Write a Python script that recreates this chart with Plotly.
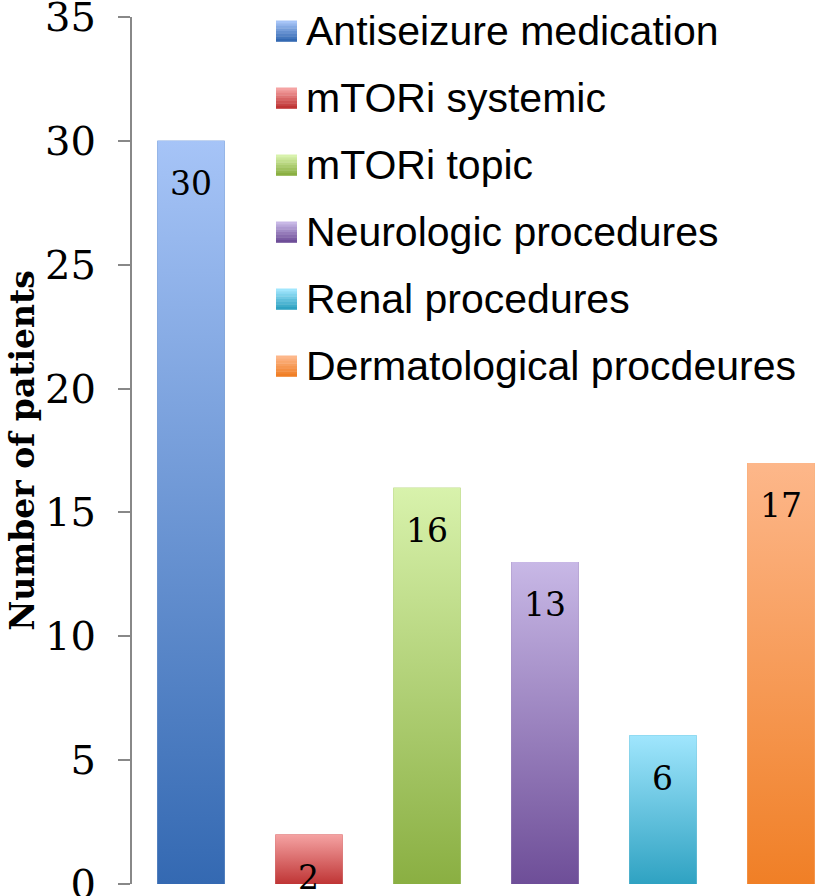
import plotly.graph_objects as go

# ---- data ----
categories = ["Antiseizure medication", "mTORi systemic", "mTORi topic",
              "Neurologic procedures", "Renal procedures", "Dermatological procdeures"]
values = [30, 2, 16, 13, 6, 17]
top_colors = ["#A6C4F7", "#F5A3A3", "#D8F2AC", "#C8B8E6", "#A0E6FD", "#FDB78A"]
bottom_colors = ["#3469B2", "#BF3535", "#8AAF42", "#6E4E98", "#2FA2C2", "#F07F26"]
y_ticks = [0, 5, 10, 15, 20, 25, 30, 35]
y_title = "Number of patients"

# ---- layout geometry ----
W, H = 829, 896
L, R, T, B = 132, 0, 17, 12
PW, PH = W - L - R, H - T - B
bar_width = 0.57


def px_x(px):
    return (px - L) / PW


def px_y(py):
    return (H - B - py) / PH


def hex2rgb(h):
    h = h.lstrip("#")
    return tuple(int(h[i:i + 2], 16) for i in (0, 2, 4))


def blend(c1, c2, t):
    a, b = hex2rgb(c1), hex2rgb(c2)
    return "rgb(%d,%d,%d)" % tuple(round(a[k] + (b[k] - a[k]) * t) for k in range(3))


fig = go.Figure()
annotations = []
shapes = []

for i, (cat, v, top, bot) in enumerate(zip(categories, values, top_colors, bottom_colors)):
    fig.add_trace(go.Bar(x=[i], y=[v], width=bar_width, name=cat,
                         marker=dict(color=bot, line=dict(width=0)),
                         showlegend=False, hovertemplate=cat + ": %{y}<extra></extra>"))
    x0, x1 = i - bar_width / 2, i + bar_width / 2
    fig.add_trace(go.Scatter(x=[x0, x0, x1, x1, x0], y=[0, v, v, 0, 0],
                             mode="lines", fill="toself", line=dict(width=0),
                             fillgradient=dict(type="vertical",
                                               colorscale=[[0, bot], [1, top]]),
                             hoverinfo="skip", showlegend=False))
    annotations.append(dict(x=i, y=v, xref="x", yref="y", text=str(v), showarrow=False,
                            yshift=-43, yanchor="middle", xanchor="center",
                            font=dict(family="DejaVu Serif", size=33, color="black")))

# ---- manual legend ----
n_strips = 8
sq = 21
for k, (cat, top, bot) in enumerate(zip(categories, top_colors, bottom_colors)):
    cy = 31 + 67 * k
    for j in range(n_strips):
        y_top = cy - sq / 2 + j * sq / n_strips
        y_bot = y_top + sq / n_strips
        shapes.append(dict(type="rect", xref="paper", yref="paper",
                           x0=px_x(276), x1=px_x(276 + sq),
                           y0=px_y(y_bot + 0.3), y1=px_y(y_top),
                           fillcolor=blend(top, bot, j / (n_strips - 1)),
                           line=dict(width=0), layer="above"))
    annotations.append(dict(x=px_x(304), y=px_y(cy), xref="paper", yref="paper",
                            text=cat, showarrow=False, xanchor="left", yanchor="middle",
                            font=dict(family="Liberation Sans, Arial", size=41, color="black")))

fig.update_layout(
    width=W, height=H,
    margin=dict(l=L, r=R, t=T, b=B, pad=0, autoexpand=False),
    paper_bgcolor="white", plot_bgcolor="white",
    showlegend=False,
    annotations=annotations, shapes=shapes,
    xaxis=dict(range=[-0.5, 5.407], visible=False, showgrid=False, zeroline=False,
               automargin=False),
    yaxis=dict(range=[0, 35], tickvals=y_ticks, ticks="outside", ticklen=12, tickwidth=2,
               tickcolor="#888888", showline=True, linecolor="#888888", linewidth=2,
               showgrid=False, zeroline=False, ticklabelstandoff=14,
               ticklabeloverflow="allow", automargin=False,
               tickfont=dict(family="DejaVu Serif", size=40, color="black"),
               title=dict(text=y_title, standoff=1,
                          font=dict(family="DejaVu Serif", size=33, color="black",
                                    weight="bold"))),
)

fig.write_html(
    "out.html",
    config={"displayModeBar": False, "responsive": False},
    post_script=("document.body.style.margin='0px';"
                 "document.body.style.padding='0px';"
                 "document.documentElement.style.overflow='hidden';"),
)
